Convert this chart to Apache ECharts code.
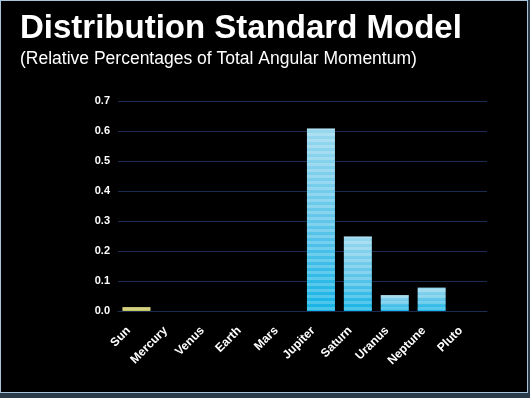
<!DOCTYPE html>
<html>
<head>
<meta charset="utf-8">
<script src="https://cdn.jsdelivr.net/npm/echarts@6/dist/echarts.min.js"></script>
<style>
  html, body { margin:0; padding:0; background:#2c3b49; }
  #frame { position:absolute; left:0; top:0; width:526px; height:391px; border:1px solid #a8c4d8; background:#000; }
  #chart { width:526px; height:391px; }
</style>
</head>
<body>
<div id="frame"><div id="chart"></div></div>
<script>
// 数据
var planets = ['Sun','Mercury','Venus','Earth','Mars','Jupiter','Saturn','Uranus','Neptune','Pluto'];
var momentum = [0.013, 0, 0, 0, 0, 0.608, 0.248, 0.053, 0.078, 0];
var yTicks = [0, 0.1, 0.2, 0.3, 0.4, 0.5, 0.6, 0.7];

var chart = echarts.init(document.getElementById('chart'));

var barColor = {
    type:'linear', x:0, y:0, x2:0, y2:1,
    colorStops:[
        {offset:0, color:'#98d8ee'},
        {offset:0.5, color:'#62c6ea'},
        {offset:1, color:'#15b4e6'}
    ]
};

var option = {
    backgroundColor:'#000',
    animation:false,
    title:[{
        text:'Distribution Standard Model',
        left:14, top:6,
        textStyle:{ color:'#fff', fontFamily:'Liberation Sans', fontWeight:'bold', fontSize:33 }
    },{
        text:'(Relative Percentages of Total Angular Momentum)',
        left:14, top:44,
        textStyle:{ color:'#fff', fontFamily:'Liberation Sans', fontWeight:'normal', fontSize:17.5 }
    }],
    grid:{ left:117, right:40, top:100, bottom:81 },
    xAxis:{
        type:'category',
        data:planets,
        axisLine:{ lineStyle:{ color:'#1c2b50', width:1 } },
        axisTick:{ show:false },
        axisLabel:{
            rotate:45, interval:0, margin:10, padding:[0,11,0,0],
            color:'#fff', fontFamily:'Liberation Sans', fontWeight:'bold', fontSize:12
        }
    },
    yAxis:{
        type:'value',
        min:yTicks[0], max:yTicks[yTicks.length-1], interval:0.1,
        axisLine:{ show:false },
        axisTick:{ show:false },
        splitLine:{ lineStyle:{ color:'#1c2b50', width:1 } },
        axisLabel:{
            margin:8, color:'#fff', fontFamily:'Liberation Sans', fontWeight:'bold', fontSize:11,
            formatter:function(v){ return v.toFixed(1); }
        }
    },
    series:[{
        type:'bar',
        data:momentum.map(function(v, i){
            return i === 0 ? { value:v, itemStyle:{ color:'#c7c45c', decal:null } } : v;
        }),
        barWidth:28,
        itemStyle:{
            color:barColor,
            decal:{
                symbol:'rect',
                dashArrayX:[1,0],
                dashArrayY:[3,3],
                rotation:0,
                color:'rgba(255,255,255,0.22)'
            }
        }
    }]
};
chart.setOption(option);
</script>
</body>
</html>
